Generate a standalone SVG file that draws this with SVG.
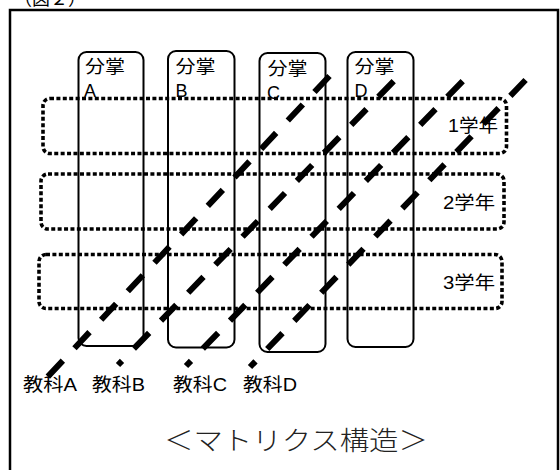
<svg xmlns="http://www.w3.org/2000/svg" width="560" height="470" viewBox="0 0 560 470">
<style>
  .frame{fill:none;stroke:#000;stroke-width:2.5}
  .col{fill:none;stroke:#000;stroke-width:2}
  .row{fill:none;stroke:#000;stroke-width:3.6;stroke-dasharray:4 2.4}
  .diag{fill:none;stroke:#000;stroke-width:6;stroke-dasharray:22 17}
  .t{font-family:"Liberation Sans","Noto Sans CJK JP",sans-serif;font-size:18px;fill:#000}
  .title{font-family:"Noto Sans CJK JP",sans-serif;font-weight:300;font-size:26px;fill:#222}
</style>
<rect width="560" height="470" fill="#fff"/>
<text class="t" x="14" y="5" font-size="20">（図２）</text>
<path class="frame" d="M10,472 V10 H558 V472"/>

<g id="col-A">
  <rect class="col" x="78.5" y="52" width="65" height="294" rx="8"/>
  <text class="t" x="85" y="72.5" textLength="40" lengthAdjust="spacingAndGlyphs">分掌</text>
  <text class="t" x="84" y="97">A</text>
</g>
<g id="col-B">
  <rect class="col" x="168" y="51" width="66.5" height="296.5" rx="8"/>
  <text class="t" x="175.5" y="72.5" textLength="40" lengthAdjust="spacingAndGlyphs">分掌</text>
  <text class="t" x="175.5" y="97">B</text>
</g>
<g id="col-C">
  <rect class="col" x="259.5" y="53" width="66" height="299" rx="8"/>
  <text class="t" x="267.5" y="74.5" textLength="40" lengthAdjust="spacingAndGlyphs">分掌</text>
  <text class="t" x="267" y="99">C</text>
</g>
<g id="col-D">
  <rect class="col" x="347.5" y="52" width="66" height="295" rx="8"/>
  <text class="t" x="354.5" y="72.5" textLength="40" lengthAdjust="spacingAndGlyphs">分掌</text>
  <text class="t" x="354.5" y="97">D</text>
</g>

<g id="row-1">
  <rect class="row" x="43" y="98.5" width="463.5" height="55" rx="7"/>
  <text class="t" x="448" y="131.5" textLength="50" lengthAdjust="spacingAndGlyphs">1学年</text>
</g>
<g id="row-2">
  <rect class="row" x="41" y="174" width="463" height="55" rx="7"/>
  <text class="t" x="443" y="209" textLength="52" lengthAdjust="spacingAndGlyphs">2学年</text>
</g>
<g id="row-3">
  <rect class="row" x="39" y="254.5" width="463" height="54" rx="7"/>
  <text class="t" x="443" y="289" textLength="52" lengthAdjust="spacingAndGlyphs">3学年</text>
</g>

<g id="connectors">
  <path class="diag" d="M329.5,76 L47.5,377"/>
  <path class="diag" d="M393.7,81.1 L118,365"/>
  <path class="diag" d="M462.7,81.1 L186,366"/>
  <path class="diag" d="M525.6,80 L250,367"/>
</g>

<g id="subject-A"><text class="t" x="23" y="391" textLength="54" lengthAdjust="spacingAndGlyphs">教科A</text></g>
<g id="subject-B"><text class="t" x="92" y="391" textLength="53" lengthAdjust="spacingAndGlyphs">教科B</text></g>
<g id="subject-C"><text class="t" x="173" y="391" textLength="54" lengthAdjust="spacingAndGlyphs">教科C</text></g>
<g id="subject-D"><text class="t" x="243" y="391" textLength="54" lengthAdjust="spacingAndGlyphs">教科D</text></g>

<text class="title" x="164" y="450" textLength="264" lengthAdjust="spacingAndGlyphs">＜マトリクス構造＞</text>
</svg>
